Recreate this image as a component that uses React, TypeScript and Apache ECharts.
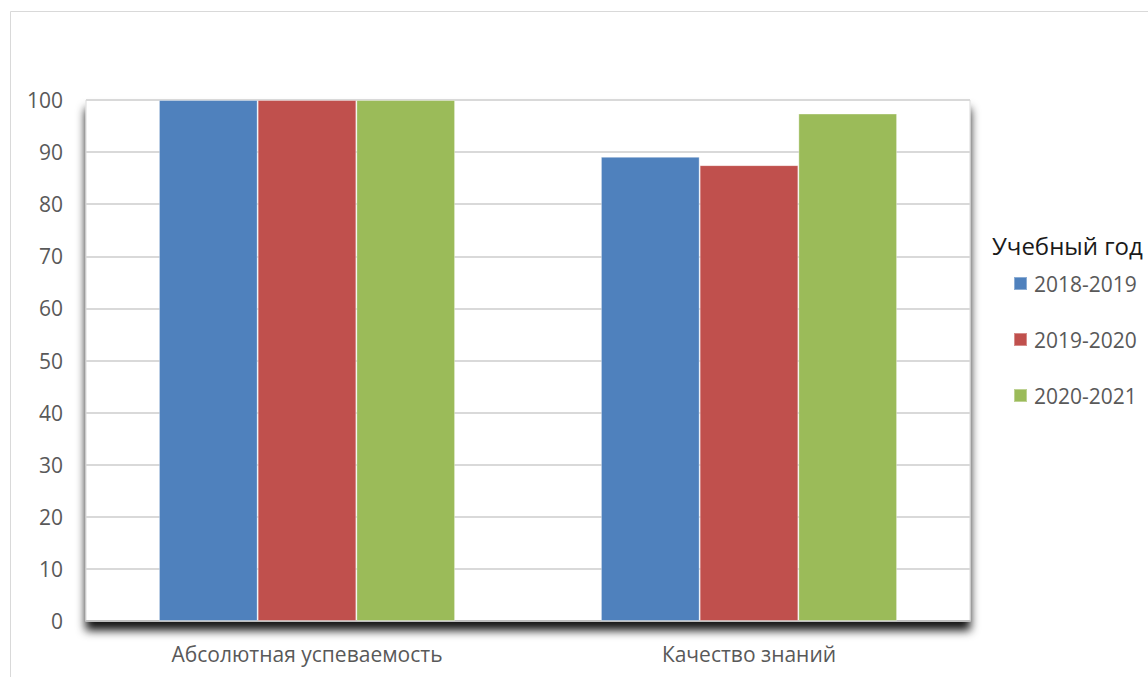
import React, { useEffect, useRef } from "react";
import * as echarts from "echarts";

const categories = ["Абсолютная успеваемость", "Качество знаний"];
const seriesNames = ["2018-2019", "2019-2020", "2020-2021"];
const values2018 = [100, 89.1];
const values2019 = [100, 87.5];
const values2020 = [100, 97.4];
const colors = ["#4f81bd", "#c0504d", "#9bbb59"];
const legendTitle = "Учебный год";

const FONT = "'Open Sans', 'Noto Sans', sans-serif";

export default function App() {
  const ref = useRef<HTMLDivElement>(null);
  useEffect(() => {
    if (!ref.current) return;
    const chart = echarts.init(ref.current, undefined, { renderer: "svg" });
    const data = [values2018, values2019, values2020];
    chart.setOption({
      animation: false,
      backgroundColor: "#ffffff",
      title: {
        text: legendTitle,
        left: 992,
        top: 233,
        padding: 0,
        textStyle: { fontFamily: FONT, fontSize: 24, fontWeight: "normal", color: "#1a1a1a" },
      },
      legend: {
        orient: "vertical",
        left: 1013,
        top: 273,
        padding: 0,
        itemGap: 35,
        itemWidth: 13,
        itemHeight: 13,
        icon: "rect",
        data: seriesNames,
        textStyle: { fontFamily: FONT, fontSize: 21, color: "#595959", padding: [0, 0, 0, 2] },
      },
      graphic: [
        {
          type: "rect",
          shape: { x: 10.5, y: 11.5, width: 1300, height: 800 },
          style: { fill: "none", stroke: "#d9d9d9", lineWidth: 1 },
          silent: true,
          z: -10,
        },
      ],
      grid: {
        left: 86,
        right: 178,
        top: 100,
        bottom: 56,
        show: true,
        backgroundColor: "#ffffff",
        borderColor: "#d9d9d9",
        borderWidth: 1,
        shadowColor: "rgba(0,0,0,0.92)",
        shadowBlur: 10,
        shadowOffsetY: 9,
        shadowOffsetX: 0,
      },
      xAxis: {
        type: "category",
        data: categories,
        axisLine: { show: true, lineStyle: { color: "#bfbfbf", width: 2 } },
        axisTick: { show: false },
        axisLabel: { margin: 22, fontFamily: FONT, fontSize: 21, color: "#595959" },
      },
      yAxis: {
        type: "value",
        min: 0,
        max: 100,
        interval: 10,
        axisLine: { show: false },
        axisTick: { show: false },
        splitLine: { lineStyle: { color: "#d9d9d9", width: 2 } },
        axisLabel: { margin: 23, fontFamily: FONT, fontSize: 21, color: "#595959" },
      },
      series: seriesNames.map((name, i) => ({
        name,
        type: "bar",
        data: data[i],
        barGap: "0%",
        barCategoryGap: "33%",
        itemStyle: { color: colors[i], borderColor: "rgba(255,255,255,0.35)", borderWidth: 1 },
      })),
    });
    return () => chart.dispose();
  }, []);
  return (
    <div
      ref={ref}
      style={{ position: "fixed", left: 0, top: 0, width: 1148, height: 677 }}
    />
  );
}
